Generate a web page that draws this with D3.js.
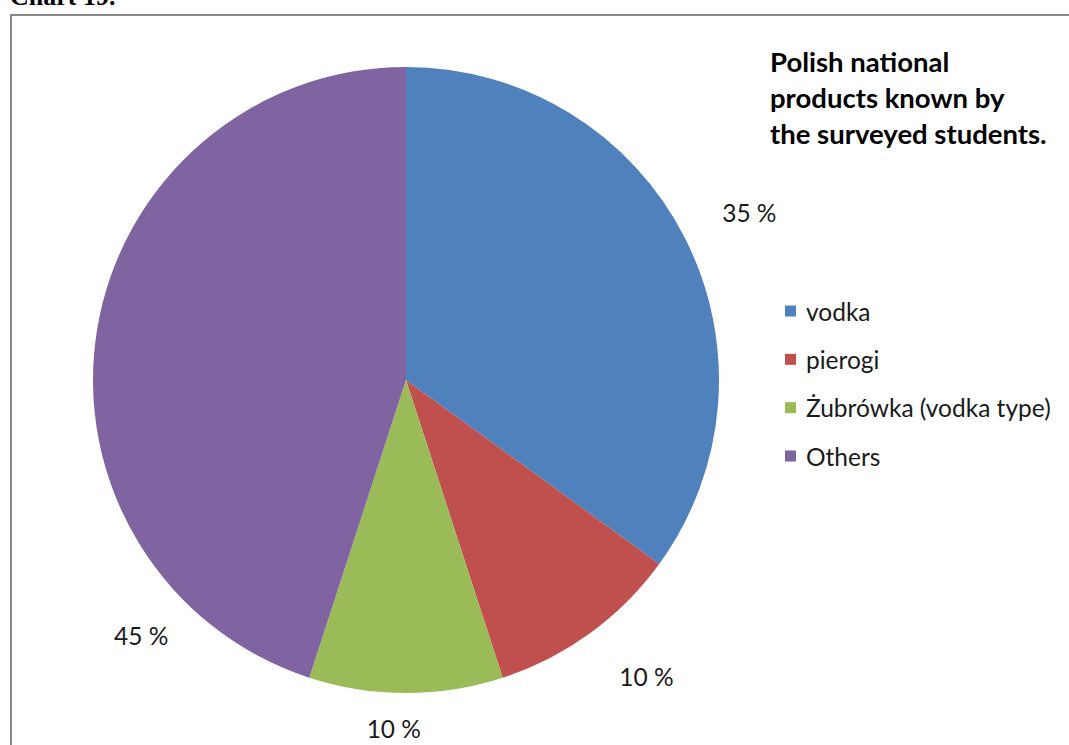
<!DOCTYPE html>
<html>
<head>
<meta charset="utf-8">
<script src="https://cdn.jsdelivr.net/npm/d3@7"></script>
<style>
  html, body { margin: 0; padding: 0; background: #fff; }
  svg { display: block; }
</style>
</head>
<body>
<svg id="chart" width="1069" height="745"></svg>
<script>
// Survey data: Polish national products known by the students
const categories = ["vodka", "pierogi", "Żubrówka (vodka type)", "Others"];
const shares = [35, 10, 10, 45];
const valueLabels = ["35 %", "10 %", "10 %", "45 %"];
const titleLines = ["Polish national", "products known by", "the surveyed students."];

// Presentation settings
const sliceColors = ["#4F81BD", "#C0504D", "#9BBB59", "#8064A2"];
const labelPlacement = [
  { shiftDeg: 1, radius: 382 },
  { shiftDeg: -3, radius: 382 },
  { shiftDeg: 2, radius: 349 },
  { shiftDeg: -53, radius: 368 }
];
const sansFont = "Lato, 'Open Sans', sans-serif";

const svg = d3.select("#chart");
const W = 1069, H = 745;

// Caption above the frame (cut at the top edge)
svg.append("text")
  .attr("x", 10).attr("y", 5)
  .attr("font-family", "'Liberation Serif', 'Times New Roman', serif")
  .attr("font-weight", "bold")
  .attr("font-size", 26)
  .attr("fill", "#000")
  .text("Chart 19.");

// Chart frame
svg.append("rect")
  .attr("x", 11).attr("y", 15)
  .attr("width", W + 20).attr("height", H + 20)
  .attr("fill", "#fff")
  .attr("stroke", "#878787")
  .attr("stroke-width", 2);

const cx = 406, cy = 380, R = 313;
const g = svg.append("g").attr("transform", `translate(${cx},${cy})`);

const pie = d3.pie().sort(null).value(d => d)(shares);
const arc = d3.arc().innerRadius(0).outerRadius(R);
const color = d3.scaleOrdinal().domain(categories).range(sliceColors);

g.selectAll("path.slice")
  .data(pie)
  .join("path")
  .attr("class", "slice")
  .attr("d", arc)
  .attr("fill", (d, i) => color(categories[i]));

// Percentage labels outside the pie
g.selectAll("text.value")
  .data(pie)
  .join("text")
  .attr("class", "value")
  .attr("transform", (d, i) => {
    const p = labelPlacement[i];
    const mid = (d.startAngle + d.endAngle) / 2 + p.shiftDeg * Math.PI / 180;
    const la = d3.arc().innerRadius(p.radius).outerRadius(p.radius);
    const [x, y] = la.centroid({ startAngle: mid, endAngle: mid });
    return `translate(${x},${y})`;
  })
  .attr("text-anchor", "middle")
  .attr("dominant-baseline", "central")
  .attr("font-family", sansFont)
  .attr("font-size", 24.5)
  .attr("fill", "#1a1a1a")
  .text((d, i) => valueLabels[i]);

// Title
const title = svg.append("text")
  .attr("x", 770).attr("y", 72)
  .attr("font-family", sansFont)
  .attr("font-weight", "bold")
  .attr("font-size", 27.5)
  .attr("fill", "#000");
title.selectAll("tspan")
  .data(titleLines)
  .join("tspan")
  .attr("x", 770)
  .attr("dy", (d, i) => i === 0 ? 0 : 36)
  .text(d => d);

// Legend
const legendY = d3.scalePoint().domain(categories).range([311, 456]);
const legend = svg.append("g");
const item = legend.selectAll("g")
  .data(categories)
  .join("g")
  .attr("transform", d => `translate(785,${legendY(d)})`);
item.append("rect")
  .attr("x", 0).attr("y", -5.5)
  .attr("width", 11).attr("height", 11)
  .attr("fill", d => color(d));
item.append("text")
  .attr("x", 21).attr("y", 0)
  .attr("dominant-baseline", "central")
  .attr("font-family", sansFont)
  .attr("font-size", 24.5)
  .attr("fill", "#1a1a1a")
  .text(d => d);
</script>
</body>
</html>
